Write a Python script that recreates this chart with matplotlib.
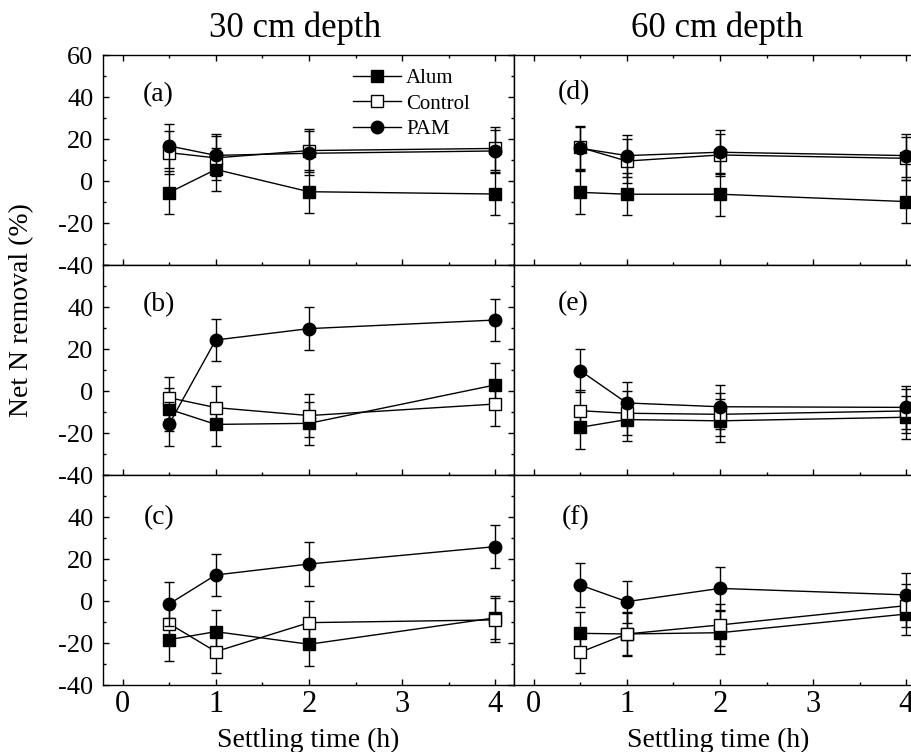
import matplotlib
matplotlib.use("Agg")
import matplotlib.pyplot as plt
from matplotlib.ticker import MultipleLocator, FixedLocator
from matplotlib.lines import Line2D

plt.rcParams['font.family'] = ['Liberation Serif', 'DejaVu Serif']
plt.rcParams['axes.unicode_minus'] = False

# ---------------- data ----------------
settling_time = [0.5, 1, 2, 4]
series_names = ["Alum", "Control", "PAM"]
panel_labels = ["(a)", "(b)", "(c)", "(d)", "(e)", "(f)"]
column_titles = ["30 cm depth", "60 cm depth"]
x_ticks = [0, 1, 2, 3, 4]
y_ticks = [-40, -20, 0, 20, 40, 60]

# 30 cm depth
alum_a = [-5.5, 5.5, -5.1, -6.2]
control_a = [13.5, 11.0, 14.5, 15.5]
pam_a = [16.7, 12.2, 13.2, 14.3]
alum_b = [-8.7, -15.9, -15.4, 2.9]
control_b = [-3.2, -7.9, -11.7, -6.2]
pam_b = [-15.7, 24.3, 29.7, 33.8]
alum_c = [-18.4, -14.6, -20.6, -8.0]
control_c = [-10.8, -24.1, -10.3, -9.0]
pam_c = [-1.4, 12.4, 17.6, 25.9]
# 60 cm depth
alum_d = [-5.4, -6.3, -6.3, -9.8]
control_d = [16.0, 9.5, 12.4, 10.8]
pam_d = [15.6, 12.1, 13.7, 12.1]
alum_e = [-17.3, -13.6, -14.2, -12.5]
control_e = [-9.4, -10.6, -11.1, -9.5]
pam_e = [9.7, -5.7, -7.5, -7.8]
alum_f = [-15.4, -15.7, -15.1, -6.2]
control_f = [-24.4, -15.7, -11.4, -2.2]
pam_f = [7.6, -0.3, 6.0, 2.9]

# standard errors
err_alum = [10.2, 10.1, 10.3, 10.2]
err_control = [10.1, 10.4, 10.2, 10.3]
err_pam = [10.3, 10.0, 10.4, 10.2]

panels = [
    [(alum_a, control_a, pam_a), (alum_b, control_b, pam_b), (alum_c, control_c, pam_c)],
    [(alum_d, control_d, pam_d), (alum_e, control_e, pam_e), (alum_f, control_f, pam_f)],
]
errs = (err_alum, err_control, err_pam)

styles = [
    dict(marker='s', markersize=8, markerfacecolor='black', markeredgecolor='black'),
    dict(marker='s', markersize=8, markerfacecolor='white', markeredgecolor='black'),
    dict(marker='o', markersize=9, markerfacecolor='black', markeredgecolor='black'),
]

W, H = 911, 752
fig = plt.figure(figsize=(W / 100, H / 100), dpi=100)

ax_left_px = [103, 514]
ax_w_px = 411
row_top_px = [55, 265, 475]
ax_h_px = 210

label_pos = [[(0.097, 0.81), (0.097, 0.81), (0.10, 0.795)],
             [(0.107, 0.819), (0.107, 0.814), (0.117, 0.795)]]

for col in range(2):
    for row in range(3):
        left = ax_left_px[col] / W
        bottom = 1 - (row_top_px[row] + ax_h_px) / H
        ax = fig.add_axes([left, bottom, ax_w_px / W, ax_h_px / H])
        data = panels[col][row]
        for k in range(3):
            ax.errorbar(settling_time, data[k], yerr=errs[k], color='black',
                        linewidth=1.0, elinewidth=1.0, capsize=3.5, capthick=1.0,
                        markeredgewidth=1.0, zorder=3 + k, **styles[k])
        ax.set_xlim(-0.21, 4.2)
        ax.set_ylim(-40, 60)
        ax.xaxis.set_major_locator(FixedLocator(x_ticks))
        ax.xaxis.set_minor_locator(MultipleLocator(0.5))
        ax.yaxis.set_major_locator(FixedLocator(y_ticks))
        ax.yaxis.set_minor_locator(MultipleLocator(10))
        for sp in ax.spines.values():
            sp.set_linewidth(1.0)
        ax.tick_params(which='both', direction='in', top=(row == 0), bottom=True,
                       left=(col == 0), right=(col == 0), width=1.0)
        ax.tick_params(which='major', length=4)
        ax.tick_params(which='minor', length=2.5)
        ax.tick_params(axis='x', labelsize=22, pad=3.5, labelbottom=(row == 2))
        ax.tick_params(axis='y', labelsize=19, pad=7, labelleft=(col == 0))
        if col == 0:
            ax.set_yticklabels([str(v) if (v != 60 or row == 0) else '' for v in y_ticks])
        lx, ly = label_pos[col][row]
        ax.text(lx, ly, panel_labels[col * 3 + row], transform=ax.transAxes,
                fontsize=20, ha='left', va='center')
        if col == 0 and row == 0:
            handles = [Line2D([], [], color='black', linewidth=1.0, markeredgewidth=1.0,
                              **styles[k]) for k in range(3)]
            ax.legend(handles=handles, labels=series_names, loc='upper left',
                      bbox_to_anchor=(0.608, 0.935),
                      frameon=False, fontsize=15, numpoints=1, handlelength=2.3,
                      handletextpad=0.25, labelspacing=0.28, borderpad=0, borderaxespad=0)

fig.text(295 / W, 1 - 28 / H, column_titles[0], fontsize=25, ha='center', va='center')
fig.text(717 / W, 1 - 28 / H, column_titles[1], fontsize=25, ha='center', va='center')
fig.text(308 / W, 1 - 747 / H, "Settling time (h)", fontsize=20, ha='center', va='baseline')
fig.text(718 / W, 1 - 747 / H, "Settling time (h)", fontsize=20, ha='center', va='baseline')
fig.text(22 / W, 1 - 310 / H, "Net N removal (%)", fontsize=20, ha='center', va='center',
         rotation=90)

fig.savefig("out.png", dpi=100)
